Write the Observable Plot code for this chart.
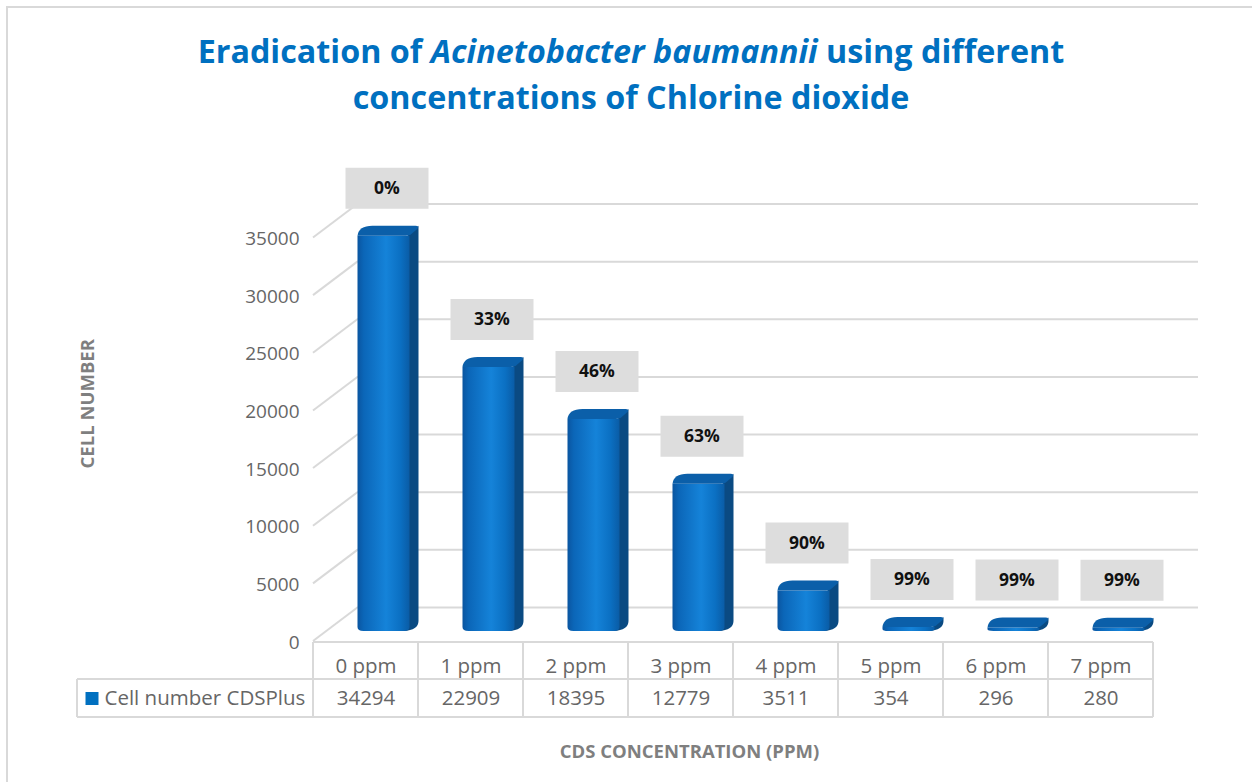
<!DOCTYPE html>
<html><head><meta charset="utf-8">
<script src="https://cdn.jsdelivr.net/npm/d3@7"></script>
<script src="https://cdn.jsdelivr.net/npm/@observablehq/plot@0.6"></script>
<style>
html,body{margin:0;padding:0;background:#fff;width:1252px;height:782px;overflow:hidden;}
#border{position:absolute;left:6px;top:6px;width:1262px;height:800px;border:2px solid #d9d9d9;box-sizing:border-box;}
#title{position:absolute;left:10px;top:27px;width:1242px;text-align:center;font-family:"Open Sans",Lato,sans-serif;font-weight:bold;font-size:32.3px;color:#0070C0;line-height:46px;}
#chart{position:absolute;left:0;top:130px;}
</style></head><body>
<div id="border"></div>
<div id="title">Eradication of <i>Acinetobacter baumannii</i> using different<br>concentrations of Chlorine dioxide</div>
<div id="chart"></div>
<script>
// ---- data ----
const categories = ["0 ppm", "1 ppm", "2 ppm", "3 ppm", "4 ppm", "5 ppm", "6 ppm", "7 ppm"];
const cellNumbers = [34294, 22909, 18395, 12779, 3511, 354, 296, 280];
const reductionLabels = ["0%", "33%", "46%", "63%", "90%", "99%", "99%", "99%"];
const yTicks = [0, 5000, 10000, 15000, 20000, 25000, 30000, 35000];
const seriesName = "Cell number CDSPlus";
const yTitle = "CELL NUMBER";
const xTitle = "CDS CONCENTRATION (PPM)";

// ---- style constants ----
const GRID = "#d9d9d9";
const DEPTH = {dx: 45, dy: 34};          // back wall offset
const BAR = {shift: 18, half: 26, lift: 10, dx: 9, dy: 10};
const TEXT = "#666666";

function diagRender(I, scales, values, dims) {
  const g = d3.create("svg:g").attr("stroke", GRID).attr("stroke-width", 2);
  for (const i of I) {
    g.append("line")
      .attr("x1", dims.marginLeft).attr("y1", values.y[i])
      .attr("x2", dims.marginLeft + DEPTH.dx).attr("y2", values.y[i] - DEPTH.dy);
  }
  return g.node();
}

function tableRender(I, scales, values, dims) {
  const g = d3.create("svg:g").attr("stroke", GRID).attr("stroke-width", 2).attr("fill", "none");
  const top = scales.y(0) + 1, mid = top + 37, bot = top + 75;
  const xl = 77, x0 = scales.x(0), xr = scales.x(categories.length);
  for (const i of I) {
    g.append("line").attr("x1", values.x[i]).attr("x2", values.x[i]).attr("y1", top).attr("y2", bot);
  }
  g.append("line").attr("x1", x0).attr("x2", xr).attr("y1", top).attr("y2", top);
  g.append("line").attr("x1", xl).attr("x2", xr).attr("y1", mid).attr("y2", mid);
  g.append("line").attr("x1", xl).attr("x2", xr).attr("y1", bot).attr("y2", bot);
  g.append("line").attr("x1", xl).attr("x2", xl).attr("y1", mid).attr("y2", bot);
  return g.node();
}

function barsRender(I, scales, values) {
  const g = d3.create("svg:g");
  const grad = g.append("defs").append("linearGradient").attr("id", "cylFront")
    .attr("x1", 0).attr("x2", 1).attr("y1", 0).attr("y2", 0);
  [[0, "#0a55a0"], [0.12, "#0b66b8"], [0.55, "#1583d9"], [0.82, "#0b70c3"], [1, "#0a5ca6"]]
    .forEach(([o, c]) => grad.append("stop").attr("offset", o).attr("stop-color", c));
  for (const i of I) {
    const cx = (values.x1[i] + values.x2[i]) / 2 + BAR.shift;
    const L = cx - BAR.half, R = cx + BAR.half;
    const top = Math.min(values.y1[i], values.y2[i]) - BAR.lift;
    const bot = Math.max(values.y1[i], values.y2[i]) - BAR.lift;
    const h = bot - top;
    const rv = Math.min(4, h / 2), rh = 6;
    const dx = BAR.dx, dy = BAR.dy;
    g.append("path").attr("fill", "#0a4a82").attr("d",
      `M${R - 2},${top} L${R + dx},${top - dy} L${R + dx},${bot - dy} Q${R + dx},${bot - 1} ${R - rh},${bot} Z`);
    g.append("path").attr("fill", "url(#cylFront)").attr("d",
      `M${L},${top} L${L},${bot - rv} Q${L},${bot} ${L + rh},${bot} L${R - rh},${bot} Q${R},${bot} ${R},${bot - rv} L${R},${top} Z`);
    g.append("path").attr("fill", "#0b5fa9").attr("d",
      `M${L},${top} Q${L + 1},${top - dy} ${L + dx + 6},${top - dy} L${R + dx - 3},${top - dy} Q${R + dx + 1},${top - dy} ${R + dx - 1},${top - dy + 3} L${R + 1},${top - 1} Q${R - 1},${top} ${R - 4},${top} Z`);
  }
  return g.node();
}

const labelBox = {draw(ctx) { ctx.rect(-41.5, -20.5, 83, 41); }};
const swatch = {draw(ctx) { ctx.rect(-6.5, -6.5, 13, 13); }};

const chart = Plot.plot({
  width: 1252,
  height: 652,
  marginLeft: 313,
  marginRight: 99,
  marginTop: 107.5,
  marginBottom: 141,
  style: {fontFamily: "'Open Sans', Lato, sans-serif", fontSize: "19px", color: TEXT, background: "transparent", overflow: "visible"},
  x: {type: "linear", domain: [0, categories.length], range: [313, 1153], axis: null},
  y: {type: "linear", domain: [0, 35000], range: [511, 107.5], axis: null},
  marks: [
    // back wall gridlines
    Plot.ruleY(yTicks, {y: d => d, dx: DEPTH.dx, dy: -DEPTH.dy, stroke: GRID, strokeWidth: 2}),
    // side wall diagonals
    Plot.ruleY(yTicks, {y: d => d, render: diagRender}),
    // data table grid
    Plot.ruleX(d3.range(categories.length + 1), {x: d => d, render: tableRender}),
    // 3D bars
    Plot.rectY(categories, {x1: (d, i) => i, x2: (d, i) => i + 1, y: (d, i) => cellNumbers[i], render: barsRender}),
    // reduction labels
    Plot.dot(reductionLabels, {x: (d, i) => i + 0.5, y: (d, i) => cellNumbers[i], dx: 21, dy: -58, symbol: labelBox, fill: "#dddddd"}),
    Plot.text(reductionLabels, {x: (d, i) => i + 0.5, y: (d, i) => cellNumbers[i], text: d => d, dx: 21, dy: -58, fontWeight: "bold", fontSize: 17.5, fill: "#111111"}),
    // y tick labels
    Plot.text(yTicks, {y: d => d, text: d => String(d), frameAnchor: "left", textAnchor: "end", lineAnchor: "middle", dx: -14, dy: 1, fill: TEXT}),
    // data table texts
    Plot.text(categories, {x: (d, i) => i + 0.5, text: d => d, frameAnchor: "bottom", lineAnchor: "middle", dy: 25, fontSize: 20.5, fill: TEXT}),
    Plot.text(cellNumbers, {x: (d, i) => i + 0.5, text: d => String(d), frameAnchor: "bottom", lineAnchor: "middle", dy: 57, fontSize: 20.5, fill: TEXT}),
    Plot.dot([seriesName], {frameAnchor: "bottom-left", dx: -221.5, dy: 57, symbol: swatch, fill: "#0070C0"}),
    Plot.text([seriesName], {text: d => d, frameAnchor: "bottom-left", textAnchor: "start", lineAnchor: "middle", dx: -209, dy: 57, fontSize: 20.5, fill: TEXT}),
    // axis titles
    Plot.text([yTitle], {text: d => d, frameAnchor: "left", textAnchor: "middle", lineAnchor: "middle", rotate: -90, dx: -225, dy: -36, fontWeight: "bold", fontSize: 18.5, fill: "#7f7f7f"}),
    Plot.text([xTitle], {text: d => d, frameAnchor: "bottom", textAnchor: "middle", lineAnchor: "middle", dx: -44, dy: 111, fontWeight: "bold", fontSize: 18.5, fill: "#7f7f7f"})
  ]
});
document.getElementById("chart").appendChild(chart);
</script>
</body></html>
